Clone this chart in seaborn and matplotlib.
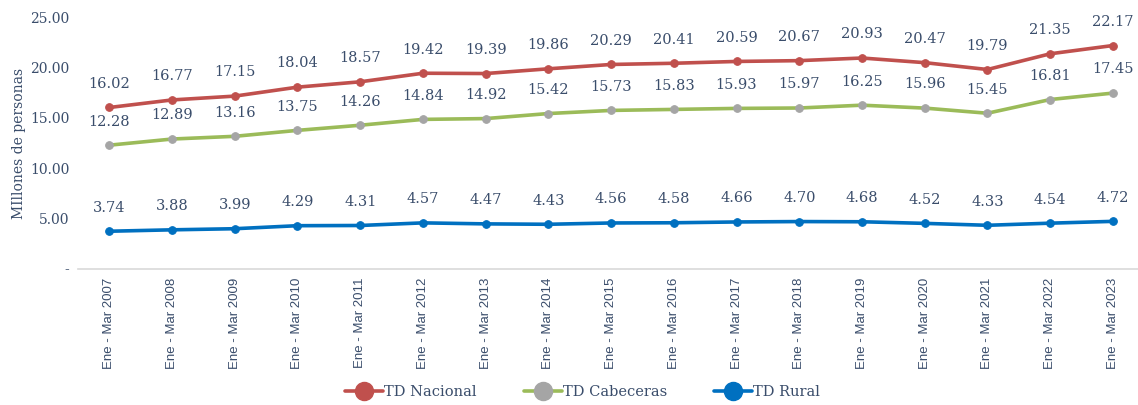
import pandas as pd
import matplotlib.pyplot as plt
import seaborn as sns
from matplotlib.lines import Line2D

years = list(range(2007, 2024))
periodos = [f"Ene - Mar {y}" for y in years]

td_nacional = [16.02, 16.77, 17.15, 18.04, 18.57, 19.42, 19.39, 19.86, 20.29,
               20.41, 20.59, 20.67, 20.93, 20.47, 19.79, 21.35, 22.17]
td_cabeceras = [12.28, 12.89, 13.16, 13.75, 14.26, 14.84, 14.92, 15.42, 15.73,
                15.83, 15.93, 15.97, 16.25, 15.96, 15.45, 16.81, 17.45]
td_rural = [3.74, 3.88, 3.99, 4.29, 4.31, 4.57, 4.47, 4.43, 4.56,
            4.58, 4.66, 4.70, 4.68, 4.52, 4.33, 4.54, 4.72]

series = ["TD Nacional", "TD Cabeceras", "TD Rural"]
line_colors = ["#C0504D", "#9BBB59", "#0070C0"]
marker_colors = ["#C0504D", "#A5A5A5", "#0070C0"]
text_color = "#3A4D6B"

df = pd.DataFrame({
    "x": list(range(len(periodos))) * 3,
    "valor": td_nacional + td_cabeceras + td_rural,
    "serie": [s for s in series for _ in periodos],
})

sns.set_style("white")
plt.rcParams["font.family"] = ["DejaVu Serif"]

fig = plt.figure(figsize=(11.38, 4.05), dpi=100)
ax = fig.add_axes([0.0685, 0.336, 0.9315, 0.622])

for s, lc, mc in zip(series, line_colors, marker_colors):
    sub = df[df["serie"] == s]
    sns.lineplot(data=sub, x="x", y="valor", ax=ax, color=lc, lw=2.6,
                 marker="o", markersize=5.5, markerfacecolor=mc,
                 markeredgecolor=mc, legend=False)
    for xi, v in zip(sub["x"], sub["valor"]):
        ax.annotate(f"{v:.2f}", (xi, v), xytext=(0, 12), textcoords="offset points",
                    ha="center", va="bottom", fontsize=10.5, color=text_color)

ax.set_xlim(-0.5, 16.4)
ax.set_ylim(0, 25)
ax.set_yticks([0, 5, 10, 15, 20, 25])
ax.set_yticklabels(["-"] + [f"{t:.2f}" for t in [5, 10, 15, 20, 25]],
                   fontsize=10, color=text_color)
ax.set_xticks(range(len(periodos)))
ax.set_xticklabels(periodos, rotation=90, fontsize=9.5, color=text_color,
                   family=["Liberation Sans"])
ax.tick_params(axis="both", length=0, pad=6)
ax.set_xlabel("")
ax.set_ylabel("MIllones de personas", fontsize=10, color=text_color, labelpad=3)

for side in ["top", "right", "left"]:
    ax.spines[side].set_visible(False)
ax.spines["bottom"].set_color("#D9D9D9")
ax.spines["bottom"].set_linewidth(1.2)

handles = [Line2D([0], [0], color=lc, lw=2.6, marker="o", markersize=13,
                  markerfacecolor=mc, markeredgecolor=mc)
           for lc, mc in zip(line_colors, marker_colors)]
fig.legend(handles, series, loc="center", bbox_to_anchor=(0.512, 0.032), ncol=3,
           frameon=False, fontsize=10.5, labelcolor=text_color, handlelength=2.6,
           handletextpad=0.1, columnspacing=3.2)

fig.savefig("out.png", dpi=100)
